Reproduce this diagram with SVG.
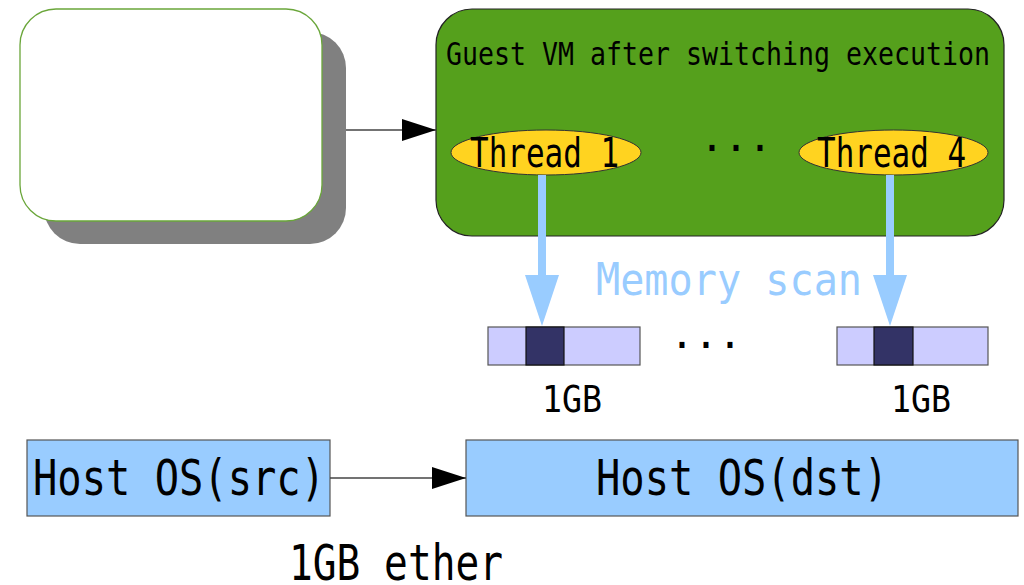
<svg xmlns="http://www.w3.org/2000/svg" width="1024" height="585" viewBox="0 0 1024 585">
<defs>
<style>
text{font-family:"DejaVu Sans Mono","Liberation Mono",monospace;}
.blk{fill:#000;}
.thr{fill:#ffd320;stroke:#333;stroke-width:1;}
.bar{fill:#ccccff;stroke:#555;stroke-width:1.2;}
.cell{fill:#333366;stroke:#111;stroke-width:1.2;}
.host{fill:#99ccff;stroke:#555;stroke-width:1.2;}
.scan{stroke:#99ccff;stroke-width:8;fill:none;}
.edge{stroke:#444;stroke-width:1.3;fill:none;}
</style>
<marker id="ah" markerUnits="userSpaceOnUse" markerWidth="34" markerHeight="22" refX="34" refY="11" orient="auto">
<path d="M0,0 L34,11 L0,22 Z" fill="#000"/>
</marker>
</defs>
<rect width="1024" height="585" fill="#fff"/>

<g id="source-vm">
<rect x="44" y="32" width="302" height="212" rx="36" ry="36" fill="#808080"/>
<rect x="20" y="9" width="302" height="212" rx="36" ry="36" fill="#fff" stroke="#6aa63a" stroke-width="1.3"/>
</g>

<g id="guest-vm">
<rect x="436" y="9" width="568" height="227" rx="36" ry="36" fill="#55a01c" stroke="#222" stroke-width="1.2"/>
<text x="446" y="65" font-size="32" textLength="544" lengthAdjust="spacingAndGlyphs" class="blk">Guest VM after switching execution</text>
<text x="700" y="151" font-size="40" textLength="72" lengthAdjust="spacingAndGlyphs" class="blk">...</text>
</g>

<g id="thread1">
<ellipse cx="546" cy="152.5" rx="95" ry="22.5" class="thr"/>
<text x="470" y="167" font-size="40" textLength="149" lengthAdjust="spacingAndGlyphs" class="blk">Thread 1</text>
</g>

<g id="thread4">
<ellipse cx="893.5" cy="152.5" rx="94.5" ry="22.5" class="thr"/>
<text x="817" y="167" font-size="40" textLength="149" lengthAdjust="spacingAndGlyphs" class="blk">Thread 4</text>
</g>

<g id="memory-label">
<text x="596" y="295" font-size="45" textLength="266" lengthAdjust="spacingAndGlyphs" fill="#99ccff">Memory scan</text>
</g>

<g id="mem1">
<rect x="488" y="327" width="152" height="38" class="bar"/>
<rect x="526" y="327" width="38" height="38" class="cell"/>
<text x="572" y="412" font-size="37" text-anchor="middle" textLength="60" lengthAdjust="spacingAndGlyphs" class="blk">1GB</text>
</g>

<g id="mem-dots">
<text x="670" y="348" font-size="40" textLength="72" lengthAdjust="spacingAndGlyphs" class="blk">...</text>
</g>

<g id="mem4">
<rect x="837" y="327" width="151" height="38" class="bar"/>
<rect x="874" y="327" width="39" height="38" class="cell"/>
<text x="921" y="412" font-size="37" text-anchor="middle" textLength="60" lengthAdjust="spacingAndGlyphs" class="blk">1GB</text>
</g>

<g id="host-src">
<rect x="27" y="440" width="303" height="76" class="host"/>
<text x="33" y="495" font-size="49" textLength="292" lengthAdjust="spacingAndGlyphs" class="blk">Host OS(src)</text>
</g>

<g id="host-dst">
<rect x="466" y="440" width="552" height="76" class="host"/>
<text x="596" y="495" font-size="49" textLength="292" lengthAdjust="spacingAndGlyphs" class="blk">Host OS(dst)</text>
</g>

<g id="ether-label">
<text x="289" y="580" font-size="49" textLength="214" lengthAdjust="spacingAndGlyphs" class="blk">1GB ether</text>
</g>

<g id="connectors">
<line x1="346" y1="130" x2="436" y2="130" class="edge" marker-end="url(#ah)"/>
<line x1="330" y1="478" x2="466" y2="478" class="edge" marker-end="url(#ah)"/>
<path d="M542,175 V276" class="scan"/>
<path d="M525,275 L559,275 L542,326 Z" fill="#99ccff"/>
<path d="M890,175 V276" class="scan"/>
<path d="M873,275 L907,275 L890,326 Z" fill="#99ccff"/>
</g>
</svg>
